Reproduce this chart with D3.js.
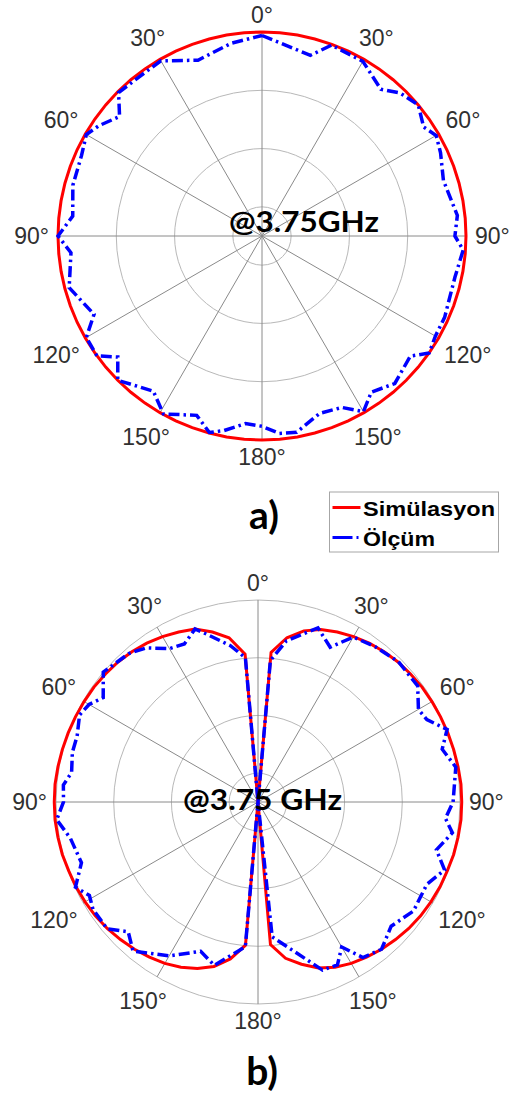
<!DOCTYPE html>
<html>
<head>
<meta charset="utf-8">
<script src="https://cdn.jsdelivr.net/npm/d3@7"></script>
<style>
  body { margin: 0; background: #fff; }
  svg { display: block; }
</style>
</head>
<body>
<div id="chart"></div>
<script>
const width = 513;
const height = 1100;

// grid
const thetaTicks = [0, 30, 60, 90, 120, 150, 180, 210, 240, 270, 300, 330];
const rTicks = [-30, -20, -10, 0];
const rMin = -35, rMax = 0;

// a) top plot, degrees clockwise from top, normalized dB
const simTopAngles = d3.range(0, 361, 5);
const simTopDb = [0, 0, 0, 0, 0, 0, 0, 0, 0, 0, 0, 0, 0, 0, 0, 0, 0, 0, 0,
  0, 0, 0, 0, 0, 0, 0, 0, 0, 0, 0, 0, 0, 0, 0, 0, 0, 0,
  0, 0, 0, 0, 0, 0, 0, 0, 0, 0, 0, 0, 0, 0, 0, 0, 0, 0, 0, 0, 0,
  0, 0, 0, 0, 0, 0, 0, 0, 0, 0, 0, 0, 0, 0, 0, 0, 0, 0];

const measTopAngles = [0, 15, 20, 30, 39, 44, 50, 56, 60, 65, 73, 84, 90, 94, 102, 114, 120, 125, 129, 138,
  145, 150, 155, 162, 170, 175, 180, 185, 191, 195, 200, 209, 215, 225, 230, 234, 240, 245, 255, 265,
  270, 276, 285, 294, 300, 304, 310, 315, 322, 330, 340, 351, 360];
const measTopDb = [-0.6, -2.9, -0.15, -0.4, -2.6, -0.9, 0, -1.55, -0.5, -1.2, -2.45, -1.3, -1.9, -0.4, -1.15, -0.7, -0.65, 0, -2.25, -0.95,
  -2.3, -0.2, -2.55, -3.0, -0.8, -1.0, -2.35, -2.7, -1.0, -0.1, -2.25, -0.1, -2.5, 0, -2.7, 0, -0.2, -3.2, -0.75, -2.1,
  0, -2.35, -1.4, -1.1, -0.2, -1.2, -3.1, -0.2, -0.5, -0.3, -2.9, -1.5, -0.6];

// b) bottom plot
const simBotAngles = d3.range(0, 361, 5);
const simBotDb = [-35, -9.0, -6.1, -4.3, -3.2, -2.5, -1.9, -1.4, -1.0, -0.7, -0.5, -0.3, -0.2, -0.1, 0.0, 0.1, 0.2, 0.3,
  0.3, 0.3, 0.2, 0.1, -0.1, -0.2, -0.4, -0.6, -0.9, -1.3, -1.7, -2.2, -2.7, -3.4, -4.4, -5.9, -7.5, -10.2,
  -35, -10.1, -7.4, -5.5, -4.3, -3.4, -2.7, -2.2, -1.7, -1.3, -0.9, -0.6, -0.4, -0.2, -0.1, 0.1, 0.2, 0.3,
  0.3, 0.3, 0.2, 0.1, 0.0, -0.1, -0.2, -0.3, -0.5, -0.7, -1.0, -1.4, -1.9, -2.5, -3.1, -4.5, -6.1, -9.3, -35];

const measBotAngles = [0, 5, 10, 19, 25, 30, 37, 45, 54, 60, 64, 69, 74, 80, 90, 95, 99, 105, 110, 116,
  120, 125, 133, 140, 146, 150, 154, 159, 174, 180, 185, 195, 201, 210, 220, 225, 230, 237, 241, 245,
  251, 259, 265, 270, 275, 279, 285, 290, 296, 300, 304, 310, 319, 324, 330, 335, 340, 343, 350, 355, 360];
const measBotDb = [-35, -10.4, -6.65, -3.1, -5.4, -2.0, -1.3, -0.6, -0.8, -2.9, -2.45, 0.1, -1.8, -0.2, -1.2, -2.4, -0.9, -3.0, -0.6, -2.45,
  -2.4, -2.1, -3.45, -1.7, -2.5, -6.0, -3.6, -3.8, -11.5, -35, -9.8, -5.7, -7.3, -4.2, -1.3, -3.2, -0.85, -0.9, -1.6, -0.1,
  -2.65, -1.9, 0, -1.3, -1.15, -2.3, -1.7, -1.65, -0.6, -1.2, -2.65, 0, -0.9, -2.0, -4.3, -4.8, -3.1, -4.6, -7.5, -9.9, -35];

const legendLabels = ["Simülasyon", "Ölçüm"];

const svg = d3.select("#chart")
    .append("svg")
    .attr("width", width)
    .attr("height", height);

const toRad = d => d * Math.PI / 180;

function drawPolar(cx, cy, R, sim, meas, title, titleX, titleY, titleW) {
    const g = svg.append("g").attr("transform", `translate(${cx},${cy})`);
    const r = d3.scaleLinear().domain([rMin, rMax]).range([0, R]);

    // rings
    g.selectAll("circle.ring")
        .data(rTicks)
        .enter()
        .append("circle")
        .attr("class", "ring")
        .attr("r", d => r(d))
        .attr("fill", "none")
        .attr("stroke", "#b8b8b8")
        .attr("stroke-width", 1);

    // spokes
    g.selectAll("line.spoke")
        .data(thetaTicks)
        .enter()
        .append("line")
        .attr("class", "spoke")
        .attr("x1", 0).attr("y1", 0)
        .attr("x2", d => R * Math.sin(toRad(d)))
        .attr("y2", d => -R * Math.cos(toRad(d)))
        .attr("stroke", "#8a8a8a")
        .attr("stroke-width", 1);

    // angle labels
    g.selectAll("text.tick")
        .data(thetaTicks)
        .enter()
        .append("text")
        .attr("class", "tick")
        .attr("font-family", "'Liberation Sans', Arial, sans-serif")
        .attr("font-size", 23)
        .attr("fill", "#303030")
        .attr("text-anchor", "middle")
        .attr("dominant-baseline", "central")
        .text(d => (d <= 180 ? d : 360 - d) + "°")
        .each(function (d) {
            const w = this.getComputedTextLength();
            const a = toRad(d);
            const rr = R + 9 + (w / 2) * Math.abs(Math.sin(a)) + 8 * Math.abs(Math.cos(a));
            d3.select(this)
                .attr("x", rr * Math.sin(a))
                .attr("y", -rr * Math.cos(a));
        });

    const line = d3.lineRadial()
        .angle(d => toRad(d[0]))
        .radius(d => r(Math.max(rMin, d[1])));

    g.append("path")
        .datum(d3.zip(sim[0], sim[1]))
        .attr("d", line)
        .attr("fill", "none")
        .attr("stroke", "#ff0000")
        .attr("stroke-width", 3);

    g.append("path")
        .datum(d3.zip(meas[0], meas[1]))
        .attr("d", line)
        .attr("fill", "none")
        .attr("stroke", "#0000ff")
        .attr("stroke-width", 3.5)
        .attr("stroke-dasharray", "11,4,2.5,4");

    svg.append("text")
        .attr("x", titleX)
        .attr("y", titleY)
        .attr("font-family", "Lato, 'Open Sans', sans-serif")
        .attr("font-weight", 700)
        .attr("font-size", 29)
        .attr("fill", "#000")
        .attr("textLength", titleW)
        .attr("lengthAdjust", "spacingAndGlyphs")
        .text(title);
}

drawPolar(262, 236, 204, [simTopAngles, simTopDb], [measTopAngles, measTopDb], "@3.75GHz", 229, 232, 150);
drawPolar(258, 802, 202, [simBotAngles, simBotDb], [measBotAngles, measBotDb], "@3.75 GHz", 183, 810, 159);

// panel letters
svg.append("text")
    .attr("x", 264).attr("y", 529)
    .attr("text-anchor", "middle")
    .attr("font-family", "Lato, 'Open Sans', sans-serif")
    .attr("font-weight", 700)
    .attr("font-size", 39)
    .text("a)");

svg.append("text")
    .attr("x", 262).attr("y", 1085)
    .attr("text-anchor", "middle")
    .attr("font-family", "Lato, 'Open Sans', sans-serif")
    .attr("font-weight", 700)
    .attr("font-size", 39)
    .text("b)");

// legend
const legend = svg.append("g").attr("transform", "translate(329.5,492)");
legend.append("rect")
    .attr("width", 169)
    .attr("height", 60)
    .attr("fill", "#fff")
    .attr("stroke", "#a6a6a6")
    .attr("stroke-width", 1);

const legendColors = ["#ff0000", "#0000ff"];
const legendDash = [null, "20,4,2,4"];
const legendY = [15.5, 45.5];
const legendW = [132, 72];

legendLabels.forEach((lab, i) => {
    legend.append("line")
        .attr("x1", 3).attr("x2", 31)
        .attr("y1", legendY[i]).attr("y2", legendY[i])
        .attr("stroke", legendColors[i])
        .attr("stroke-width", 3)
        .attr("stroke-dasharray", legendDash[i]);
    legend.append("text")
        .attr("x", 33.5)
        .attr("y", legendY[i] + 8)
        .attr("font-family", "'Liberation Sans', Arial, sans-serif")
        .attr("font-weight", 700)
        .attr("font-size", 21)
        .attr("textLength", legendW[i])
        .attr("lengthAdjust", "spacingAndGlyphs")
        .attr("fill", "#000")
        .text(lab);
});
</script>
</body>
</html>
